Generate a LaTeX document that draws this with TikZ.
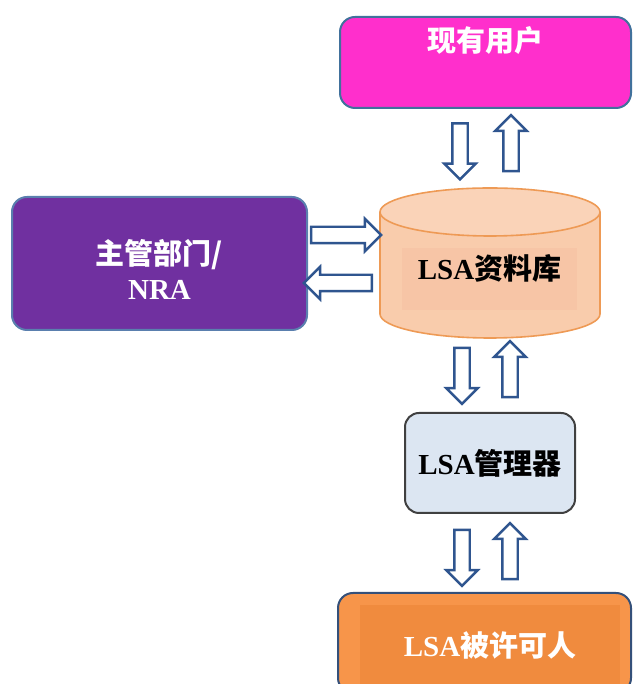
\documentclass[tikz,border=0pt]{standalone}
\usepackage{fontspec}
\setmainfont{Liberation Serif}
\newfontfamily\cjk{Noto Sans CJK SC}
\usetikzlibrary{shapes.arrows}
\newcommand\zhtxt[1]{{\cjk\bfseries #1}}
\definecolor{magentaF}{HTML}{FF2FCC}
\definecolor{purpleF}{HTML}{7030A0}
\definecolor{boxblue}{HTML}{41719C}
\definecolor{boxblue2}{HTML}{5A7FAE}
\definecolor{cylbody}{HTML}{F9CCAC}
\definecolor{cyltop}{HTML}{FAD3B8}
\definecolor{cylinner}{HTML}{F7C5A6}
\definecolor{cylline}{HTML}{EE9A55}
\definecolor{mgrfill}{HTML}{DCE6F2}
\definecolor{mgrgray}{HTML}{404040}
\definecolor{orangeF}{HTML}{F7954A}
\definecolor{orangeIn}{HTML}{F08B3E}
\definecolor{botblue}{HTML}{34507A}
\definecolor{arrowblue}{HTML}{2F558F}
\begin{document}
\begin{tikzpicture}[x=1pt,y=1pt,
  box/.style={rounded corners=15pt, line width=2pt, inner sep=0pt},
  lbl/.style={font=\fontsize{29}{33}\selectfont\bfseries},
  blockarrow/.style={single arrow, draw=arrowblue, fill=white, line width=2.4pt,
    inner sep=0pt, inner ysep=6.5pt, single arrow head extend=8pt,
    single arrow head indent=0pt, minimum height=56pt},
]
\useasboundingbox (0,0) rectangle (632,684);
\clip (0,0) rectangle (632,684);

% existing users
\node[box, draw=boxblue, fill=magentaF, minimum width=291pt, minimum height=91pt,
  label={[lbl, text=white, anchor=center, yshift=-25pt]north:\zhtxt{现有用户}}]
  (users) at (485.5,621.5) {};

% NRA
\node[box, draw=boxblue2, fill=purpleF, minimum width=295pt, minimum height=133pt,
  label={[lbl, text=white, align=center, anchor=center, yshift=-6pt]center:\zhtxt{主管部门/}\\[2pt]NRA}]
  (nra) at (159.5,420.5) {};

% database cylinder
\fill[cylbody] (380,370) arc[start angle=180, end angle=360, x radius=110, y radius=24]
  -- (600,472) arc[start angle=0, end angle=180, x radius=110, y radius=24] -- cycle;
\node[fill=cylinner, inner sep=0pt, minimum width=175pt, minimum height=62pt,
  label={[lbl, anchor=center, yshift=11pt]center:LSA\zhtxt{资料库}}]
  (db) at (489.5,405) {};
\draw[cylline, line width=1.6pt] (380,472) -- (380,370)
  arc[start angle=180, end angle=360, x radius=110, y radius=24] -- (600,472);
\draw[cylline, line width=1.6pt, fill=cyltop] (490,472) ellipse [x radius=110, y radius=24];

% manager
\node[box, rounded corners=14pt, draw=mgrgray, fill=mgrfill, minimum width=170pt,
  minimum height=100pt, lbl] (mgr) at (490,221) {LSA\zhtxt{管理器}};

% licensee
\node[box, draw=botblue, fill=orangeF, minimum width=293pt, minimum height=100pt]
  (lic) at (484.5,41) {};
\node[fill=orangeIn, inner sep=0pt, minimum width=260pt, minimum height=80pt,
  lbl, text=white] (licin) at (490,39) {LSA\zhtxt{被许可人}};

% arrows
\node[blockarrow, rotate=-90] (d1) at (460,536.5) {};
\node[blockarrow, rotate=90] (u1) at (511,537) {};
\node[blockarrow, rotate=-90] (d2) at (462,312) {};
\node[blockarrow, rotate=90] (u2) at (510,311) {};
\node[blockarrow, rotate=-90] (d3) at (462,130) {};
\node[blockarrow, rotate=90] (u3) at (510,129) {};
\node[blockarrow, minimum height=70pt, inner ysep=7pt] (r1) at (342,449) {};
\node[blockarrow, minimum height=68pt, inner ysep=7pt, rotate=180] (l1) at (342,401) {};
\end{tikzpicture}
\end{document}
